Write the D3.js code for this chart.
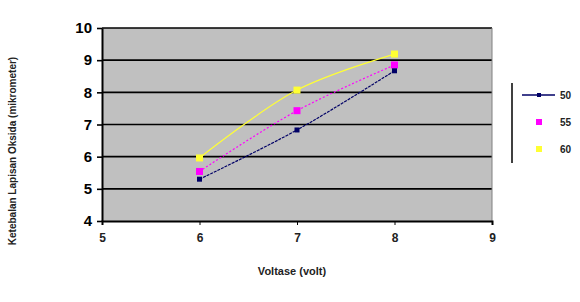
<!DOCTYPE html>
<html>
<head>
<meta charset="utf-8">
<script src="https://cdn.jsdelivr.net/npm/d3@7"></script>
<style>
  body { margin: 0; background: #fff; }
  text { font-family: Arial, "Liberation Sans", sans-serif; }
</style>
</head>
<body>
<script>
// data
var voltase = [6, 7, 8];
var seri50 = [5.3, 6.83, 8.67];
var seri55 = [5.54, 7.43, 8.85];
var seri60 = [5.96, 8.07, 9.19];
var seriesNames = ["50", "55", "60"];
var xTicks = [5, 6, 7, 8, 9];
var yTicks = [4, 5, 6, 7, 8, 9, 10];

var series = [
    { name: "50", values: seri50, color: "#000066", dash: "3,1" },
    { name: "55", values: seri55, color: "#ff00ff", dash: "2,2" },
    { name: "60", values: seri60, color: "#ffff33", dash: null }
];

var margin = { top: 28, right: 88, bottom: 81, left: 102 },
    width = 580 - margin.left - margin.right,
    height = 302 - margin.top - margin.bottom;

var x = d3.scaleLinear().domain([5, 9]).range([0, width]);
var y = d3.scaleLinear().domain([4, 10]).range([height, 0]);

var svg = d3.select("body").append("svg")
    .attr("width", 580)
    .attr("height", 302);

var g = svg.append("g")
    .attr("transform", "translate(" + margin.left + "," + margin.top + ")");

// plot area
g.append("rect")
    .attr("width", width)
    .attr("height", height)
    .attr("fill", "#c0c0c0");

// gridlines
g.selectAll(".grid")
    .data(yTicks.slice(1))
    .enter().append("line")
    .attr("x1", 0).attr("x2", width)
    .attr("y1", function (d) { return y(d); })
    .attr("y2", function (d) { return y(d); })
    .attr("stroke", "#000")
    .attr("stroke-width", 1.6);

// right border of plot area
g.append("line")
    .attr("x1", width).attr("x2", width)
    .attr("y1", 0).attr("y2", height)
    .attr("stroke", "#808080").attr("stroke-width", 1);

// lines
var line = d3.line()
    .x(function (d, i) { return x(voltase[i]); })
    .y(function (d) { return y(d); })
    .curve(d3.curveCatmullRom.alpha(0.5));

series.slice().reverse().forEach(function (s) {
    g.append("path")
        .datum(s.values)
        .attr("fill", "none")
        .attr("stroke", s.color)
        .attr("stroke-width", 1.2)
        .attr("stroke-dasharray", s.dash)
        .attr("d", line);
});

// markers
series.slice().reverse().forEach(function (s) {
    var sz = s.name === "50" ? 5 : 7;
    g.selectAll(null)
        .data(s.values)
        .enter().append("rect")
        .attr("x", function (d, i) { return x(voltase[i]) - sz / 2; })
        .attr("y", function (d) { return y(d) - sz / 2; })
        .attr("width", sz)
        .attr("height", sz)
        .attr("fill", s.color);
});

// axes
var xAxis = g.append("g")
    .attr("transform", "translate(0," + height + ")")
    .call(d3.axisBottom(x).tickValues(xTicks).tickFormat(d3.format("d"))
        .tickSize(4).tickPadding(8));
xAxis.select(".domain").attr("stroke-width", 2);
xAxis.selectAll("text").attr("font-size", 12).attr("font-weight", "bold").attr("fill", "#222");

var yAxis = g.append("g")
    .call(d3.axisLeft(y).tickValues(yTicks).tickFormat(d3.format("d"))
        .tickSize(5).tickPadding(5).tickSizeOuter(0));
yAxis.select(".domain").attr("stroke-width", 2);
yAxis.selectAll("line").attr("stroke-width", 1.6);
yAxis.selectAll("text").attr("font-size", 15).attr("font-weight", "bold").attr("fill", "#000");

// axis titles
svg.append("text")
    .attr("x", margin.left + x(7) - 5)
    .attr("y", 275)
    .attr("text-anchor", "middle")
    .attr("font-size", 11)
    .attr("font-weight", "bold")
    .attr("fill", "#222")
    .text("Voltase (volt)");

svg.append("text")
    .attr("transform", "translate(16,151) rotate(-90)")
    .attr("text-anchor", "middle")
    .attr("font-size", 10)
    .attr("font-weight", "bold")
    .attr("fill", "#222")
    .text("Ketebalan Lapisan Oksida (mikrometer)");

// legend
var legend = svg.append("g").attr("transform", "translate(512,0)");
legend.append("line")
    .attr("x1", 0).attr("x2", 0)
    .attr("y1", 83).attr("y2", 163)
    .attr("stroke", "#000").attr("stroke-width", 1.5);

series.forEach(function (s, i) {
    var ly = 95 + i * 27;
    var sz = i === 0 ? 4 : 6;
    legend.append("line")
        .attr("x1", 10).attr("x2", 43)
        .attr("y1", ly).attr("y2", ly)
        .attr("stroke", i === 0 ? s.color : "none")
        .attr("stroke-width", 1.5);
    legend.append("rect")
        .attr("x", 27 - sz / 2)
        .attr("y", ly - sz / 2)
        .attr("width", sz)
        .attr("height", sz)
        .attr("fill", s.color);
    legend.append("text")
        .attr("x", 48)
        .attr("y", ly + 4)
        .attr("font-size", 10)
        .attr("font-weight", "bold")
        .attr("fill", "#222")
        .text(seriesNames[i]);
});
</script>
</body>
</html>
